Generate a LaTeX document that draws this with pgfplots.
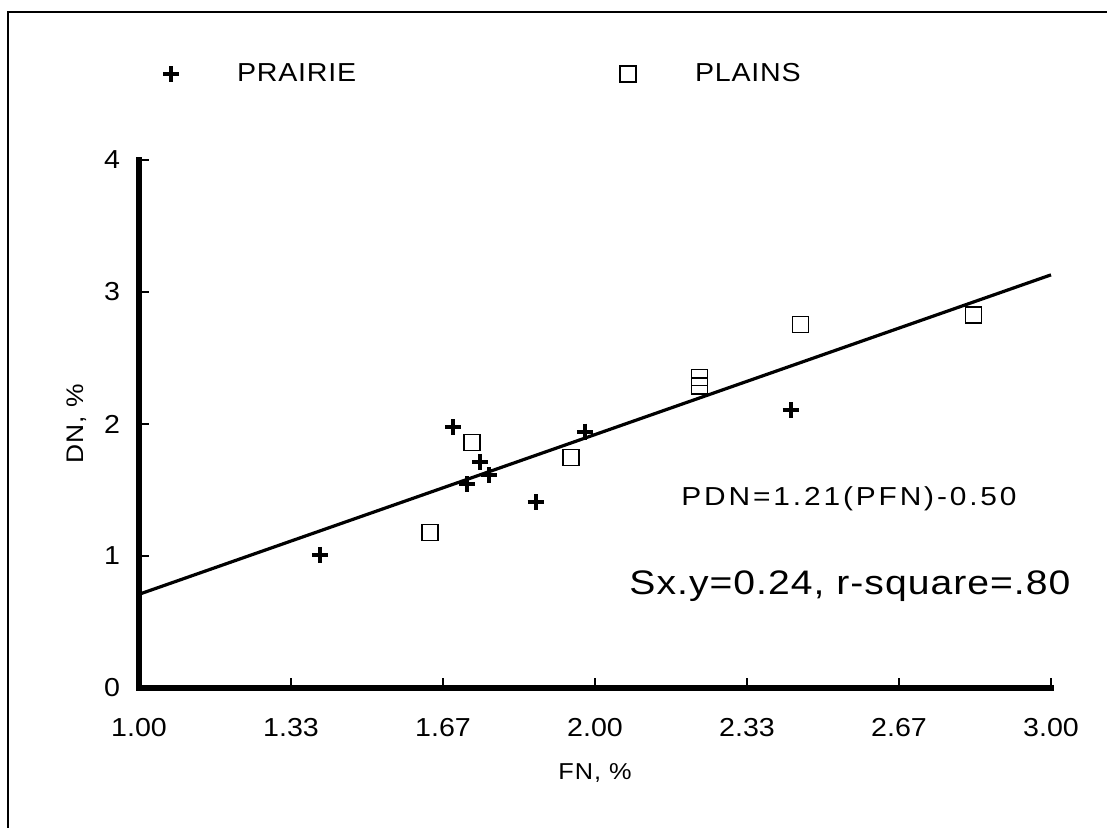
\documentclass[border=0pt]{standalone}
\usepackage{pgfplots}
\pgfplotsset{compat=1.18}
\usepackage{fontspec}
\setmainfont{Liberation Sans}[FakeStretch=1.1]
\newfontfamily\eqfont{Liberation Sans}[FakeStretch=1.15, LetterSpace=11]
\newfontfamily\sxfont{Liberation Sans}[FakeStretch=1.15, LetterSpace=3]
\newfontfamily\legfont{Liberation Sans}[FakeStretch=1.1, LetterSpace=3]
\newfontfamily\labfont{Liberation Sans}[FakeStretch=1.1, LetterSpace=4]

\begin{document}
\begin{tikzpicture}
\useasboundingbox (-69.5pt,-69.5pt) rectangle (484pt,344pt);
\draw[line width=1pt] (-65.35pt,-80pt) -- (-65.35pt,338.25pt) -- (490pt,338.25pt);
\begin{axis}[
  at={(0pt,0pt)}, anchor=south west,
  scale only axis, width=456pt, height=264pt,
  xmin=1, xmax=3, ymin=0, ymax=4,
  axis lines=left,
  axis line style={line width=3.3pt, -, line cap=rect},
  clip=false,
  xtick={1,1.33333,1.66667,2,2.33333,2.66667,3},
  xticklabels={1.00,1.33,1.67,2.00,2.33,2.67,3.00},
  ytick={0,1,2,3,4},
  tick align=inside,
  major tick length=5pt,
  tick style={line width=0.6pt, black},
  /pgf/number format/assume math mode=true,
  ticklabel style={font=\fontsize{13}{15}\selectfont, inner sep=0pt},
  xticklabel style={yshift=-15pt},
  yticklabel style={xshift=-9.25pt},
  xlabel={FN, \%},
  ylabel={DN, \%},
  every axis x label/.style={at={(axis description cs:0.5,-0.174)}, anchor=base, font=\labfont\fontsize{11.5}{13}\selectfont},
  every axis y label/.style={at={(axis description cs:-0.068,0.5)}, rotate=90, anchor=center, font=\labfont\fontsize{12}{14}\selectfont},
  legend columns=2,
  legend style={draw=none, fill=none, inner sep=0pt, outer sep=0pt,
    at={(axis description cs:0.02632,1.1629)}, anchor=west,
    font=\legfont\fontsize{13}{15}\selectfont,
    nodes={inner sep=0pt},
    /tikz/column 1/.style={column sep=29pt},
    /tikz/column 2/.style={column sep=132pt},
    /tikz/column 3/.style={column sep=29.5pt}},
]
\addplot[only marks, mark=+, mark size=4pt, mark options={line width=2pt}] coordinates {
  (1.397,1.008) (1.689,1.975) (1.748,1.714) (1.768,1.614)
  (1.720,1.545) (1.870,1.407) (1.978,1.942) (2.429,2.106)
};
\addlegendentry{PRAIRIE}
\addplot[only marks, mark=square, mark size=4pt, mark options={line width=0.7pt}] coordinates {
  (1.730,1.861) (1.947,1.748) (1.638,1.177) (2.450,2.755)
  (2.229,2.351) (2.229,2.288) (2.830,2.826)
};
\addlegendentry{PLAINS}
\addplot[line width=1.6pt, forget plot] coordinates {(1,0.71) (3,3.13)};
\node[anchor=base, font=\eqfont\fontsize{13}{15}\selectfont] at (axis cs:2.557,1.381) {PDN=1.21(PFN)-0.50};
\node[anchor=base, font=\sxfont\fontsize{17}{20}\selectfont] at (axis cs:2.559,0.712) {Sx.y=0.24, r-square=.80};
\end{axis}
\end{tikzpicture}
\end{document}
